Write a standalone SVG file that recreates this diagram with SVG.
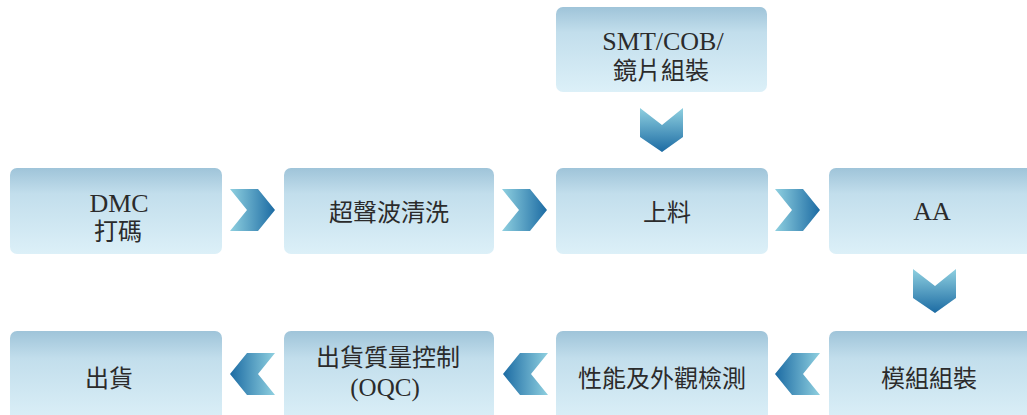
<svg xmlns="http://www.w3.org/2000/svg" width="1027" height="415" viewBox="0 0 1027 415">
<defs>
<linearGradient id="boxg" x1="0" y1="0" x2="0" y2="1">
<stop offset="0" stop-color="#9fc4d9"/>
<stop offset="0.3" stop-color="#c2deec"/>
<stop offset="1" stop-color="#dcf0f8"/>
</linearGradient>
<linearGradient id="ar" x1="0" y1="0" x2="1" y2="0">
<stop offset="0" stop-color="#8fd0e0"/>
<stop offset="1" stop-color="#1c6ba3"/>
</linearGradient>
<linearGradient id="al" x1="1" y1="0" x2="0" y2="0">
<stop offset="0" stop-color="#8fd0e0"/>
<stop offset="1" stop-color="#1c6ba3"/>
</linearGradient>
<linearGradient id="ad" x1="0" y1="0" x2="0" y2="1">
<stop offset="0" stop-color="#8fd0e0"/>
<stop offset="1" stop-color="#1c6ba3"/>
</linearGradient>
<path id="chevR" d="M0,0 H28 L45,21 L28,42 H0 L17,21 Z"/>
<path id="chevL" d="M45,0 H17 L0,21 L17,42 H45 L28,21 Z"/>
<path id="chevD" d="M0,0 L22,17 L43,0 V29 L22,44 L0,29 Z"/>
</defs>
<style>
.box{fill:url(#boxg);}
.t{font-family:"Liberation Serif","Noto Sans CJK TC",serif;font-size:24px;fill:#2b2b2b;text-anchor:middle;}
.l{font-size:26px;}
</style>
<rect width="1027" height="415" fill="#ffffff"/>
<g id="n_smt"><rect class="box" x="556" y="7" width="211" height="85" rx="7"/><text class="t l" x="663" y="50">SMT/COB/</text><text class="t" x="661" y="79">鏡片組裝</text></g>
<g id="n_dmc"><rect class="box" x="10" y="168" width="212" height="86" rx="7"/><text class="t l" x="119" y="212">DMC</text><text class="t" x="118" y="240">打碼</text></g>
<g id="n_clean"><rect class="box" x="284" y="168" width="210" height="86" rx="7"/><text class="t" x="389" y="221">超聲波清洗</text></g>
<g id="n_load"><rect class="box" x="556" y="168" width="212" height="86" rx="7"/><text class="t" x="667" y="221">上料</text></g>
<g id="n_aa"><rect class="box" x="829" y="168" width="205" height="86" rx="7"/><text class="t l" x="932" y="220">AA</text></g>
<g id="n_ship"><rect class="box" x="10" y="331" width="212" height="92" rx="7"/><text class="t" x="109" y="387">出貨</text></g>
<g id="n_oqc"><rect class="box" x="284" y="331" width="210" height="92" rx="7"/><text class="t" x="388" y="366">出貨質量控制</text><text class="t" x="385" y="396" style="font-size:25px">(OQC)</text></g>
<g id="n_test"><rect class="box" x="556" y="331" width="212" height="92" rx="7"/><text class="t" x="662" y="387">性能及外觀檢測</text></g>
<g id="n_mod"><rect class="box" x="829" y="331" width="205" height="92" rx="7"/><text class="t" x="929" y="387">模組組裝</text></g>
<g id="connectors">
<use href="#chevR" x="230" y="189" fill="url(#ar)"/>
<use href="#chevR" x="502" y="189" fill="url(#ar)"/>
<use href="#chevR" x="775" y="189" fill="url(#ar)"/>
<use href="#chevD" x="640" y="108" fill="url(#ad)"/>
<use href="#chevD" x="913" y="269" fill="url(#ad)"/>
<use href="#chevL" x="775" y="353" fill="url(#al)"/>
<use href="#chevL" x="503" y="353" fill="url(#al)"/>
<use href="#chevL" x="230" y="353" fill="url(#al)"/>
</g>
</svg>
